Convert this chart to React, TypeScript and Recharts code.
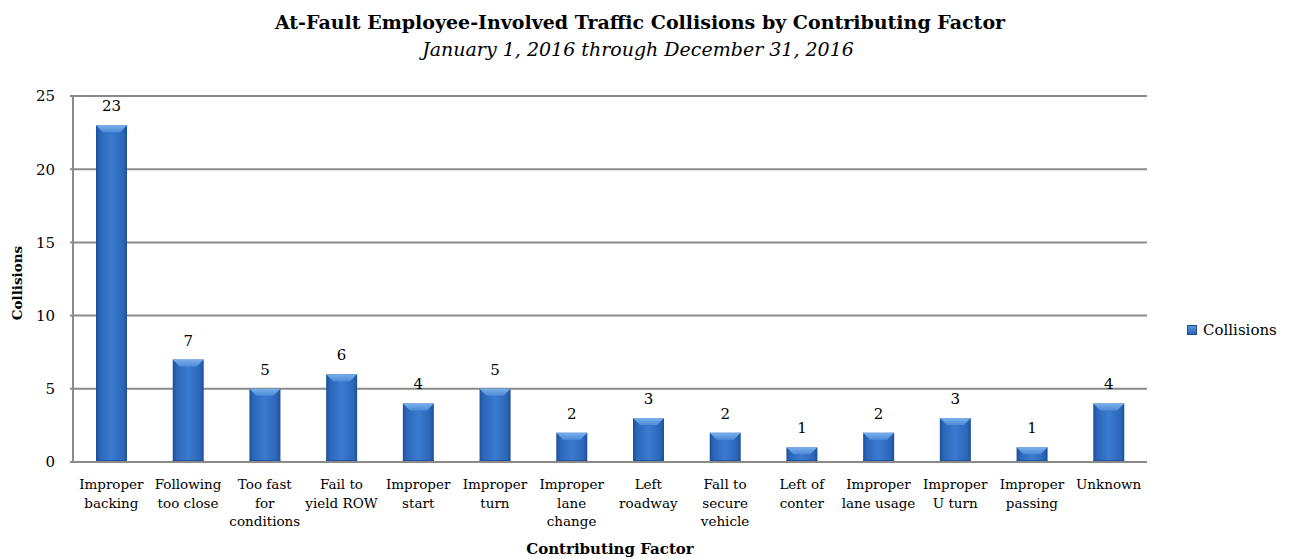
import React from 'react';
import { BarChart, Bar, XAxis, YAxis, CartesianGrid, LabelList } from 'recharts';

const categories: string[] = [
  'Improper\nbacking',
  'Following\ntoo close',
  'Too fast\nfor\nconditions',
  'Fail to\nyield ROW',
  'Improper\nstart',
  'Improper\nturn',
  'Improper\nlane\nchange',
  'Left\nroadway',
  'Fall to\nsecure\nvehicle',
  'Left of\nconter',
  'Improper\nlane usage',
  'Improper\nU turn',
  'Improper\npassing',
  'Unknown',
];
const collisions: number[] = [23, 7, 5, 6, 4, 5, 2, 3, 2, 1, 2, 3, 1, 4];
const yTicks: number[] = [0, 5, 10, 15, 20, 25];

const titleText = 'At-Fault Employee-Involved Traffic Collisions by Contributing Factor';
const subtitleText = 'January 1, 2016 through December 31, 2016';
const seriesName = 'Collisions';
const xAxisTitle = 'Contributing Factor';
const yAxisTitle = 'Collisions';

const data = categories.map((c, i) => ({ name: c, value: collisions[i] }));

const FONT = '"DejaVu Serif", serif';

const BarShape = (props: any) => {
  const { x, y, width, height } = props;
  if (!height || height <= 0) return null;
  const b = Math.min(7, height / 2);
  return (
    <g>
      <rect x={x} y={y} width={width} height={height} fill="url(#barGrad)" />
      <polygon
        points={`${x},${y} ${x + width},${y} ${x + width - b},${y + b} ${x + b},${y + b}`}
        fill="url(#bevelGrad)"
      />
      <rect x={x} y={y + height - 2} width={width} height={2} fill="#1c4a8f" opacity={0.7} />
    </g>
  );
};

const XTick = (props: any) => {
  const { x, y, payload } = props;
  const lines = String(payload.value).split('\n');
  return (
    <text x={x} y={y} textAnchor="middle" fontFamily={FONT} fontSize={13.5} fill="#000">
      {lines.map((l, i) => (
        <tspan key={i} x={x} dy={i === 0 ? 19 : 18.5}>
          {l}
        </tspan>
      ))}
    </text>
  );
};

export default function App() {
  return (
    <div style={{ position: 'fixed', left: 0, top: 0, width: 1290, height: 559, background: '#fff' }}>
      <svg width={0} height={0} style={{ position: 'absolute' }}>
        <defs>
          <linearGradient id="barGrad" x1="0" y1="0" x2="1" y2="0">
            <stop offset="0" stopColor="#1e4f98" />
            <stop offset="0.12" stopColor="#2b66b8" />
            <stop offset="0.5" stopColor="#3a7bd0" />
            <stop offset="0.88" stopColor="#2b66b8" />
            <stop offset="1" stopColor="#1e4f98" />
          </linearGradient>
          <linearGradient id="bevelGrad" x1="0" y1="0" x2="0" y2="1">
            <stop offset="0" stopColor="#7ab0ea" />
            <stop offset="1" stopColor="#4d8bd8" />
          </linearGradient>
        </defs>
      </svg>
      <div style={{ position: 'absolute', left: 0, top: 0 }}>
        <BarChart
          width={1290}
          height={559}
          data={data}
          margin={{ top: 96, right: 143, bottom: 0, left: 13 }}
          barSize={31}
        >
          <CartesianGrid vertical={false} stroke="#8a8a8a" strokeWidth={2} />
          <XAxis
            dataKey="name"
            interval={0}
            tickLine={false}
            axisLine={{ stroke: '#8a8a8a', strokeWidth: 2 }}
            tick={<XTick />}
            height={97}
          />
          <YAxis
            width={60}
            domain={[0, 25]}
            ticks={yTicks}
            interval={0}
            tickSize={3}
            tickMargin={15}
            axisLine={{ stroke: '#8a8a8a', strokeWidth: 2 }}
            tickLine={{ stroke: '#8a8a8a', strokeWidth: 2 }}
            tick={{ fontFamily: FONT, fontSize: 15, fill: '#000' }}
          />
          <Bar dataKey="value" name={seriesName} shape={<BarShape />} isAnimationActive={false}>
            <LabelList
              dataKey="value"
              position="top"
              offset={14}
              style={{ fontFamily: FONT, fontSize: 15, fill: '#000' }}
            />
          </Bar>
        </BarChart>
      </div>
      <svg width={1290} height={559} style={{ position: 'absolute', left: 0, top: 0, pointerEvents: 'none' }}>
        <text x={640} y={28.5} textAnchor="middle" fontFamily={FONT} fontWeight="bold" fontSize={19} fill="#000">
          {titleText}
        </text>
        <text x={638} y={56} textAnchor="middle" fontFamily={FONT} fontStyle="italic" fontSize={19} fill="#000">
          {subtitleText}
        </text>
        <text
          x={22}
          y={283}
          textAnchor="middle"
          transform="rotate(-90 22 283)"
          fontFamily={FONT}
          fontWeight="bold"
          fontSize={13.5}
          fill="#000"
        >
          {yAxisTitle}
        </text>
        <text x={610} y={554} textAnchor="middle" fontFamily={FONT} fontWeight="bold" fontSize={15} fill="#000">
          {xAxisTitle}
        </text>
      </svg>
      <div
        style={{
          position: 'absolute',
          left: 1187,
          top: 320,
          display: 'flex',
          alignItems: 'center',
          fontFamily: FONT,
          fontSize: 15,
          lineHeight: '20px',
        }}
      >
        <span
          style={{
            display: 'inline-block',
            width: 8,
            height: 8,
            marginRight: 6,
            background: 'linear-gradient(to bottom, #5d98de, #2a62b2)',
            border: '1px solid #1d4c93',
          }}
        />
        {seriesName}
      </div>
    </div>
  );
}
